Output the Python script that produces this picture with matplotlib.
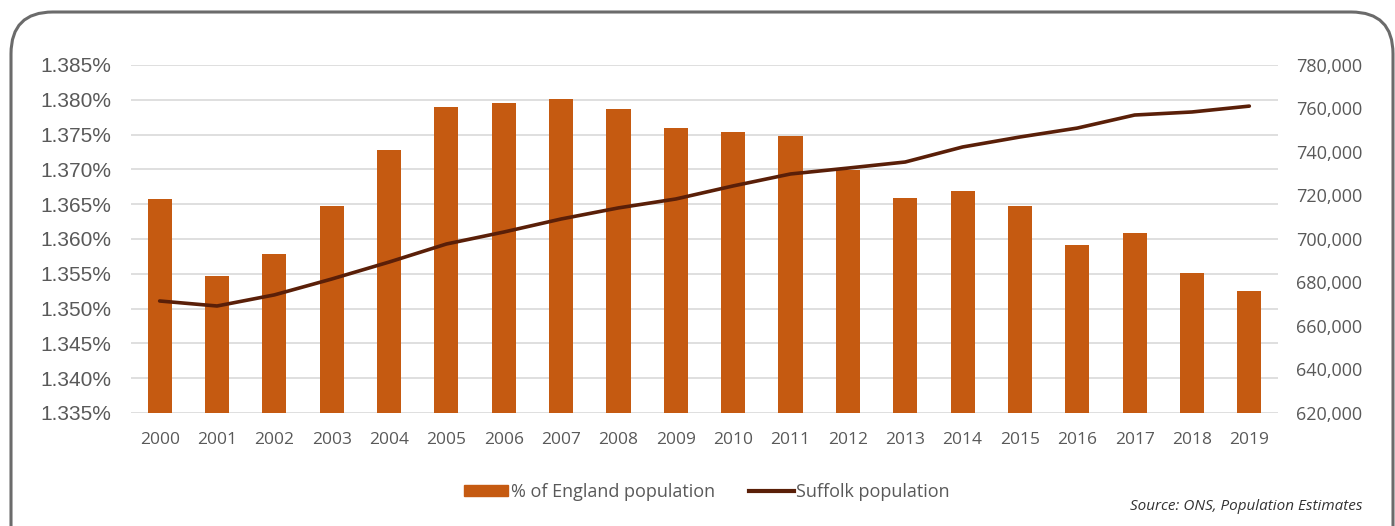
import matplotlib
matplotlib.use("Agg")
import matplotlib.pyplot as plt
from matplotlib.patches import FancyBboxPatch, Patch
from matplotlib.lines import Line2D
from matplotlib.ticker import FuncFormatter, FixedLocator

years = [str(y) for y in range(2000, 2020)]
pct_england = [1.3658, 1.3547, 1.3578, 1.3648, 1.3728, 1.3790, 1.3795, 1.3801,
               1.3787, 1.3760, 1.3754, 1.3748, 1.3699, 1.3659, 1.3669, 1.3648,
               1.3591, 1.3609, 1.3551, 1.3526]
suffolk_pop = [671500, 669200, 674300, 681600, 689400, 697700, 703200, 709200,
               714300, 718400, 724400, 729900, 732600, 735400, 742300, 746900,
               751000, 757000, 758400, 761100]
left_ticks = [1.335, 1.340, 1.345, 1.350, 1.355, 1.360, 1.365, 1.370, 1.375, 1.380, 1.385]
right_ticks = [620000, 640000, 660000, 680000, 700000, 720000, 740000, 760000, 780000]

BAR = "#C55A11"
LINE = "#5A1F08"
TXT = "#595959"

fig = plt.figure(figsize=(13.95, 5.26), dpi=100)
fig.patch.set_facecolor("white")

frame = FancyBboxPatch((11 / 1395, -0.1), (1393 - 11) / 1395, 1.1 - 12 / 526,
                       boxstyle="round,pad=0,rounding_size=0.03",
                       transform=fig.transFigure, facecolor="none",
                       edgecolor="#6b6b6b", linewidth=2.2, mutation_aspect=1395 / 526)
fig.patches.append(frame)

ax = fig.add_axes([131 / 1395, 1 - 413 / 526, (1278 - 131) / 1395, (413 - 65) / 526])
x = list(range(len(years)))
ax.bar(x, pct_england, width=0.42, color=BAR, zorder=2)
ax.set_ylim(1.335, 1.385)
ax.set_xlim(-0.5, len(years) - 0.5)
ax.yaxis.set_major_locator(FixedLocator(left_ticks))
ax.yaxis.set_major_formatter(FuncFormatter(lambda v, p: f"{v:.3f}%"))
ax.set_xticks(x)
ax.set_xticklabels(years, fontfamily="Open Sans", fontsize=12.5, color=TXT)
for lab in ax.get_yticklabels():
    lab.set_fontfamily("Liberation Sans")
    lab.set_fontsize(15)
    lab.set_color(TXT)
ax.grid(axis="y", color="#d9d9d9", linewidth=1.2, zorder=0)
ax.set_axisbelow(True)
for s in ax.spines.values():
    s.set_visible(False)
ax.tick_params(length=0)
ax.tick_params(axis="y", pad=14)
ax.tick_params(axis="x", pad=14)

ax2 = ax.twinx()
ax2.plot(x, suffolk_pop, color=LINE, linewidth=2.6, solid_capstyle="round", zorder=3)
ax2.set_ylim(620000, 780000)
ax2.yaxis.set_major_locator(FixedLocator(right_ticks))
ax2.yaxis.set_major_formatter(FuncFormatter(lambda v, p: f"{int(v):,}"))
for lab in ax2.get_yticklabels():
    lab.set_fontfamily("Open Sans")
    lab.set_fontsize(13)
    lab.set_color(TXT)
for s in ax2.spines.values():
    s.set_visible(False)
ax2.tick_params(length=0, pad=13)

handles = [Patch(facecolor=BAR, edgecolor=BAR),
           Line2D([0], [0], color=LINE, linewidth=3)]
leg = fig.legend(handles, ["% of England population", "Suffolk population"],
                 loc="center", bbox_to_anchor=(707 / 1395, 1 - 492 / 526), ncol=2,
                 frameon=False, handlelength=2.45, handletextpad=0.15,
                 columnspacing=1.9, handleheight=0.6,
                 prop={"family": "Open Sans", "size": 13})
for t in leg.get_texts():
    t.set_color(TXT)

fig.text(1363 / 1395, 1 - 507 / 526, "Source: ONS, Population Estimates",
         ha="right", va="center", fontsize=11, style="italic",
         family="Open Sans", color="#333333")

fig.savefig("out.png", dpi=100, facecolor="white")
